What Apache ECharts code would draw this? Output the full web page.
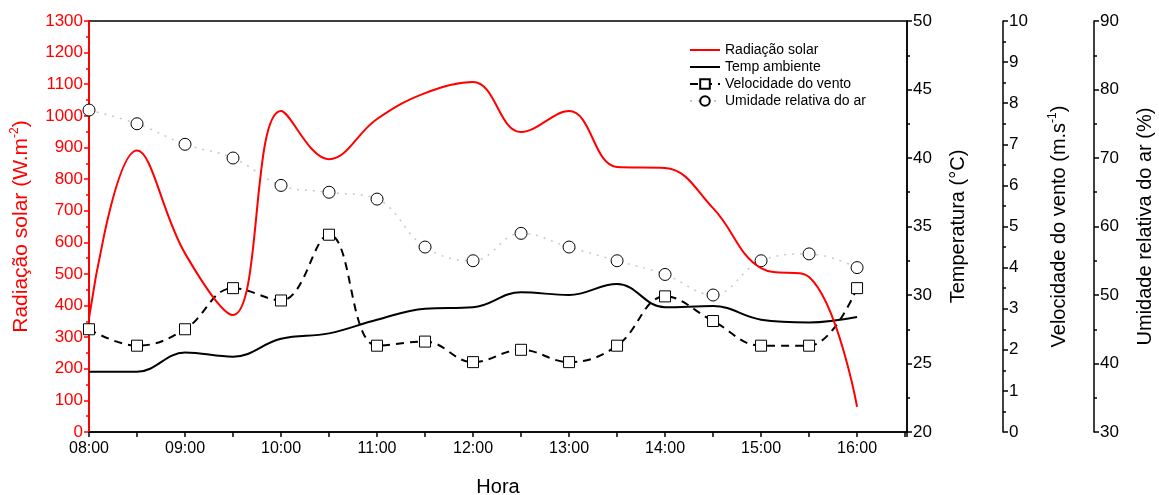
<!DOCTYPE html>
<html>
<head>
<meta charset="utf-8">
<title>Radiação solar</title>
<script src="https://cdn.jsdelivr.net/npm/echarts@6/dist/echarts.min.js"></script>
<style>
    html,body{margin:0;padding:0;background:#fff;}
    #chart{width:1159px;height:495px;}
</style>
</head>
<body>
<div id="chart"></div>
<script>
// hora (em horas decimais)
var horas = [8, 8.5, 9, 9.5, 10, 10.5, 11, 11.5, 12, 12.5, 13, 13.5, 14, 14.5, 15, 15.5, 16];
// radiação solar (W.m-2)
var radiacao = [360, 890, 565, 370, 1015, 863, 990, 1072, 1107, 949, 1015, 838, 835, 708, 518, 490, 80];
// temperatura ambiente (°C)
var temperatura = [24.4, 24.4, 25.8, 25.5, 26.8, 27.2, 28.2, 29.0, 29.1, 30.2, 30.0, 30.8, 29.1, 29.2, 28.2, 28.0, 28.4];
// velocidade do vento (m.s-1)
var vento = [2.5, 2.1, 2.5, 3.5, 3.2, 4.8, 2.1, 2.2, 1.7, 2.0, 1.7, 2.1, 3.3, 2.7, 2.1, 2.1, 3.5];
// umidade relativa do ar (%)
var umidade = [77, 75, 72, 70, 66, 65, 64, 57, 55, 59, 57, 55, 53, 50, 55, 56, 54];

var fonte = 'Liberation Sans, Arial, sans-serif';

function pares(vals){
    var out = [];
    for(var i = 0;i < horas.length;i++){
        out.push([horas[i], vals[i]]);
    }
    return out;
}

function eixoDireito(nome, min, max, intervalo, offset, gap){
    return {
        type:'value',
        position:'right',
        offset:offset,
        min:min,
        max:max,
        interval:intervalo,
        name:nome,
        nameLocation:'middle',
        nameRotate:90,
        nameGap:gap,
        nameMoveOverlap:false,
        nameTextStyle:{
            color:'#000',
            fontFamily:fonte,
            fontSize:20,
            rich:{
                n:{fontSize:20,fontFamily:fonte,color:'#000',lineHeight:24},
                s:{fontSize:12,fontFamily:fonte,color:'#000',verticalAlign:'top',lineHeight:24}
            }
        },
        axisLine:{show:true,lineStyle:{color:'#000',width:1.5}},
        axisTick:{show:true,inside:false,length:5,lineStyle:{color:'#000',width:1.5}},
        minorTick:{show:true,splitNumber:2,length:3,lineStyle:{color:'#000',width:1.5}},
        axisLabel:{color:'#000',fontFamily:fonte,fontSize:17,margin:6},
        splitLine:{show:false}
    };
}

var option = {
    animation:false,
    backgroundColor:'#fff',
    grid:{
        left:89,
        right:252,
        top:21,
        bottom:63,
        outerBoundsMode:'none',
        containLabel:false,
        show:true,
        borderColor:'#000',
        borderWidth:1.5
    },
    legend:{
        orient:'vertical',
        left:684,
        top:38,
        itemGap:3,
        itemWidth:30,
        itemHeight:12,
        textStyle:{color:'#000',fontFamily:fonte,fontSize:14},
        data:[
            {name:'Radiação solar',itemStyle:{opacity:0}},
            {name:'Temp ambiente',itemStyle:{opacity:0}},
            'Velocidade do vento',
            'Umidade relativa do ar'
        ]
    },
    xAxis:{
        type:'value',
        min:8,
        max:16.52,
        interval:1,
        name:'Hora',
        nameLocation:'middle',
        nameGap:45,
        nameMoveOverlap:false,
        nameTextStyle:{color:'#000',fontFamily:fonte,fontSize:20},
        axisLine:{show:true,lineStyle:{color:'#000',width:1.5}},
        axisTick:{show:true,length:5,lineStyle:{color:'#000',width:1.5}},
        minorTick:{show:true,splitNumber:2,length:5,lineStyle:{color:'#000',width:1.5}},
        axisLabel:{
            color:'#000',fontFamily:fonte,fontSize:16,margin:9,
            showMaxLabel:false,
            formatter:function(v){
                var h = Math.round(v);
                return (h < 10 ? '0' + h : '' + h) + ':00';
            }
        },
        splitLine:{show:false}
    },
    yAxis:[
        {
            type:'value',
            position:'left',
            min:0,
            max:1300,
            interval:100,
            name:'{n|Radiação solar (W.m}{s|-2}{n|)}',
            nameLocation:'middle',
            nameRotate:90,
            nameGap:56,
            nameMoveOverlap:false,
            nameTextStyle:{
                color:'#ff0000',
                fontFamily:fonte,
                fontSize:21,
                rich:{
                    n:{fontSize:21,fontFamily:fonte,color:'#ff0000',lineHeight:24},
                    s:{fontSize:12,fontFamily:fonte,color:'#ff0000',verticalAlign:'top',lineHeight:24}
                }
            },
            axisLine:{show:true,lineStyle:{color:'#ff0000',width:2}},
            axisTick:{show:true,length:5,lineStyle:{color:'#ff0000',width:1.5}},
            minorTick:{show:true,splitNumber:2,length:3,lineStyle:{color:'#ff0000',width:1.5}},
            axisLabel:{
                color:'#ff0000',fontFamily:fonte,fontSize:17,margin:6,
                formatter:function(v){ return '' + v; }
            },
            splitLine:{show:false}
        },
        eixoDireito('Temperatura (°C)', 20, 50, 5, 0, 41),
        eixoDireito('{n|Velocidade do vento (m.s}{s|-1}{n|)}', 0, 10, 1, 96, 44),
        eixoDireito('Umidade relativa do ar (%)', 30, 90, 10, 187, 41)
    ],
    series:[
        {
            name:'Radiação solar',
            type:'line',
            yAxisIndex:0,
            smooth:0.4,
            symbol:'none',
            color:'#ff0000',
            lineStyle:{color:'#ff0000',width:2},
            data:pares(radiacao),
            z:5
        },
        {
            name:'Temp ambiente',
            type:'line',
            yAxisIndex:1,
            smooth:0.4,
            symbol:'none',
            color:'#000',
            lineStyle:{color:'#000',width:2},
            data:pares(temperatura),
            z:4
        },
        {
            name:'Velocidade do vento',
            type:'line',
            yAxisIndex:2,
            smooth:0.4,
            symbol:'rect',
            symbolSize:11,
            color:'#000',
            itemStyle:{color:'#fff',borderColor:'#000',borderWidth:1},
            lineStyle:{color:'#000',width:2,type:[8,6]},
            data:pares(vento),
            z:3
        },
        {
            name:'Umidade relativa do ar',
            type:'line',
            yAxisIndex:3,
            smooth:0.4,
            symbol:'circle',
            symbolSize:12,
            itemStyle:{color:'#fff',borderColor:'#000',borderWidth:1},
            lineStyle:{color:'#c8c8c8',width:1.5,type:[2,6]},
            data:pares(umidade),
            z:2
        }
    ]
};

var chart = echarts.init(document.getElementById('chart'));
chart.setOption(option);
</script>
</body>
</html>
